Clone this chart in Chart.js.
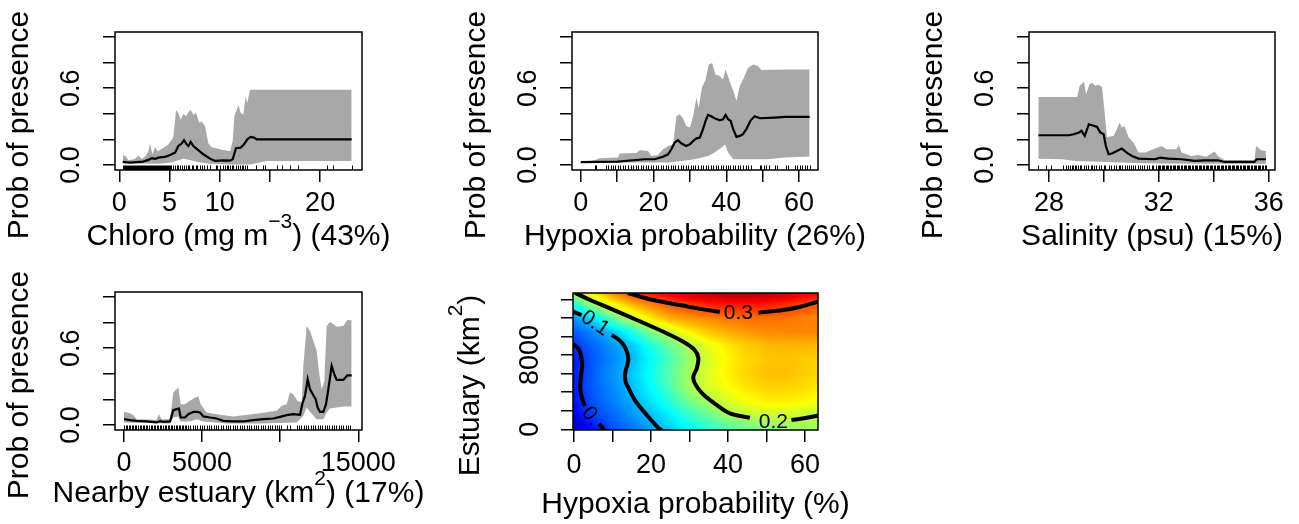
<!DOCTYPE html>
<html>
<head>
<meta charset="utf-8">
<script src="https://cdn.jsdelivr.net/npm/chart.js@4"></script>
<style>
  html, body { margin: 0; padding: 0; background: #fff; width: 1299px; height: 524px; overflow: hidden; }
  canvas { position: absolute; left: 0; top: 0; }
</style>
</head>
<body>
<canvas id="chloro" width="1299" height="524"></canvas>
<canvas id="hypoxia" width="1299" height="524"></canvas>
<canvas id="salinity" width="1299" height="524"></canvas>
<canvas id="estuary" width="1299" height="524"></canvas>
<canvas id="heat" width="1299" height="524"></canvas>
<script>
// ---- data ----
const probTicks = [0, 0.2, 0.4, 0.6, 0.8, 1.0];
const probLabels = ['0.0', '', '', '0.6', '', ''];

// Chlorophyll
const chloroTicks = [0, 5, 10, 15, 20];
const chloroLabels = ['0', '5', '10', '', '20'];
const chloroMean = [[0.34,0.023],[1.07,0.018],[2.39,0.026],[2.89,0.039],[3.22,0.052],[3.56,0.047],[3.89,0.057],[4.55,0.063],[5.05,0.078],[5.55,0.096],[5.88,0.148],[6.21,0.167],[6.44,0.193],[6.71,0.161],[6.88,0.148],[7.11,0.18],[7.37,0.148],[7.87,0.115],[8.37,0.083],[9.03,0.049],[9.53,0.031],[10.36,0.036],[11.03,0.034],[11.29,0.044],[11.62,0.13],[12.09,0.135],[12.42,0.161],[12.75,0.2],[13.08,0.219],[13.42,0.214],[13.68,0.2],[23.14,0.2]];
const chloroUpper = [[0.34,0.078],[0.67,0.065],[0.9,0.036],[1.56,0.047],[1.9,0.073],[2.23,0.047],[2.56,0.063],[2.89,0.104],[3.06,0.167],[3.29,0.083],[3.56,0.138],[3.82,0.107],[4.38,0.133],[4.88,0.159],[5.38,0.216],[5.65,0.427],[5.88,0.406],[6.11,0.354],[6.37,0.398],[6.64,0.38],[6.88,0.411],[7.11,0.432],[7.37,0.393],[7.64,0.406],[7.97,0.328],[8.2,0.341],[8.54,0.302],[8.87,0.167],[9.2,0.138],[10.03,0.122],[11.03,0.107],[11.29,0.185],[11.46,0.38],[11.86,0.466],[12.09,0.406],[12.35,0.393],[12.58,0.536],[12.75,0.484],[13.02,0.589],[23.14,0.589]];
const chloroLower = [[0.34,0.01],[4.05,0.008],[5.21,0.018],[5.88,0.036],[6.37,0.049],[7.04,0.039],[8.04,0.018],[9.03,0.008],[11.03,0.003],[13.02,0.003],[14.68,0.031],[23.14,0.031]];
const chloroRug = [0.35,0.45,0.55,0.65,0.75,0.85,0.95,1.05,1.15,1.25,1.35,1.45,1.55,1.65,1.75,1.85,1.95,2.05,2.15,2.25,2.35,2.45,2.55,2.65,2.75,2.85,2.95,3.05,3.15,3.25,3.35,3.45,3.55,3.65,3.75,3.85,3.95,4.05,4.15,4.25,4.35,4.45,4.55,4.65,4.75,4.85,4.95,5.05,5.15,5.38,5.55,5.71,5.88,6.05,6.21,6.44,6.64,6.81,6.98,7.21,7.37,7.64,7.77,8.04,8.2,8.47,8.7,9.03,9.63,9.76,10.03,10.36,10.53,10.7,10.86,11.03,11.19,11.36,11.62,11.86,12.02,12.19,12.35,12.52,12.69,13.62,14.35,14.51,15.67,16.17,17.0,17.83,20.66,21.25,23.14];

// Hypoxia probability
const hypoxiaTicks = [0, 10, 20, 30, 40, 50, 60];
const hypoxiaLabels = ['0', '', '20', '', '40', '', '60'];
const hypoxiaMean = [[0,0.021],[10.2,0.026],[17.6,0.044],[20.3,0.044],[22.6,0.063],[24.0,0.083],[24.9,0.122],[25.8,0.174],[26.7,0.193],[27.7,0.167],[29.0,0.148],[30.0,0.161],[30.9,0.187],[31.8,0.208],[32.7,0.213],[33.6,0.279],[34.3,0.344],[35.0,0.391],[35.7,0.383],[36.8,0.365],[38.2,0.349],[39.1,0.357],[39.8,0.391],[40.5,0.357],[41.2,0.344],[41.9,0.279],[42.8,0.219],[43.7,0.227],[44.6,0.24],[45.6,0.284],[46.7,0.349],[47.8,0.38],[49.2,0.365],[53.3,0.37],[56.1,0.375],[62.9,0.375]];
const hypoxiaUpper = [[0,0.023],[3.85,0.036],[5.2,0.052],[10.2,0.057],[10.7,0.089],[15.3,0.094],[16.2,0.115],[18.5,0.109],[19.4,0.07],[21.2,0.078],[22.6,0.122],[24.0,0.148],[25.4,0.161],[26.3,0.383],[27.2,0.396],[28.1,0.365],[29.0,0.305],[30.0,0.292],[30.9,0.383],[31.8,0.526],[32.4,0.448],[33.3,0.604],[34.3,0.669],[35.2,0.786],[36.1,0.797],[37.0,0.708],[38.2,0.695],[39.1,0.669],[39.8,0.747],[40.9,0.656],[42.1,0.565],[42.8,0.5],[43.7,0.617],[44.6,0.669],[46.0,0.76],[47.4,0.786],[48.7,0.773],[49.6,0.742],[56.1,0.747],[62.9,0.747]];
const hypoxiaLower = [[0,0.018],[24,0.018],[26.7,0.026],[31.3,0.044],[35,0.07],[36.8,0.096],[38.6,0.135],[39.7,0.161],[40.5,0.096],[41.9,0.044],[51.5,0.044],[56.1,0.057],[62.9,0.065]];
const hypoxiaRug = [3.8,4.3,6.9,7.5,8.2,8.9,9.5,10.3,10.9,11.6,12.3,13.0,13.7,14.4,15.1,15.7,16.5,17.1,17.9,18.5,19.2,19.9,20.6,21.3,22.0,22.6,23.4,24.0,24.7,25.4,26.0,26.7,27.5,28.1,28.8,29.5,30.2,30.9,31.5,32.2,33.0,33.6,34.3,35.0,35.7,36.4,37.1,37.7,38.5,39.1,39.8,40.5,41.1,41.9,42.5,43.2,43.9,44.6,45.3,46.0,46.7,49.2,49.6,50.4,51.0,51.7,53.5,54.0,56.5,57.0,58.8,59.5,60.2,60.8,61.6,62.3,62.9];

// Salinity
const salinityTicks = [28, 30, 32, 34, 36];
const salinityLabels = ['28', '', '32', '', '36'];
const salinityMean = [[27.61,0.232],[28.72,0.232],[28.9,0.24],[29.09,0.253],[29.18,0.266],[29.3,0.227],[29.45,0.318],[29.57,0.31],[29.75,0.297],[29.87,0.253],[29.99,0.24],[30.07,0.148],[30.17,0.083],[30.29,0.089],[30.47,0.109],[30.65,0.128],[30.83,0.096],[31.02,0.07],[31.26,0.049],[31.86,0.044],[32.04,0.057],[32.34,0.049],[32.83,0.044],[33.31,0.031],[33.67,0.036],[34.15,0.036],[34.39,0.023],[35.48,0.023],[35.56,0.044],[35.9,0.044]];
const salinityUpper = [[27.61,0.531],[29.03,0.531],[29.11,0.617],[29.27,0.651],[29.35,0.552],[29.47,0.63],[29.57,0.643],[29.69,0.617],[29.79,0.63],[29.93,0.609],[30.03,0.396],[30.11,0.219],[30.35,0.227],[30.47,0.279],[30.57,0.331],[30.65,0.292],[30.75,0.305],[30.9,0.214],[31.08,0.174],[31.26,0.096],[31.5,0.096],[31.8,0.122],[32.1,0.148],[32.28,0.122],[32.64,0.122],[32.73,0.156],[32.83,0.096],[33.19,0.07],[33.43,0.078],[33.73,0.063],[34.03,0.104],[34.15,0.07],[34.39,0.036],[35.48,0.036],[35.54,0.148],[35.72,0.115],[35.9,0.109]];
const salinityLower = [[27.61,0.049],[28.48,0.044],[28.97,0.031],[30.05,0.023],[30.77,0.016],[31.98,0.01],[34.39,0.008],[35.9,0.008]];
const salinityRug = [27.61,27.9,28.06,28.51,28.6,28.69,28.76,28.82,28.88,28.94,29.0,29.06,29.12,29.18,29.27,29.35,29.42,29.51,29.57,29.65,29.72,29.81,29.91,29.99,30.05,30.17,30.27,30.35,30.44,30.53,30.59,30.65,30.75,30.83,30.92,30.99,31.05,31.14,31.23,31.32,31.4,31.47,31.56,31.64,31.74,31.8,31.88,31.96,
  32.0,32.05,32.1,32.15,32.2,32.25,32.3,32.35,32.4,32.45,32.5,32.55,32.6,32.65,32.7,32.75,32.8,32.85,32.9,32.95,33.0,33.05,33.1,33.15,33.2,33.25,33.3,33.35,33.4,33.45,33.5,33.55,33.6,33.65,33.7,33.75,33.8,33.85,33.9,33.95,34.0,34.05,34.1,34.15,34.2,34.25,34.3,34.35,34.4,34.45,34.5,34.55,34.6,34.65,34.7,34.75,34.8,34.85,34.9,34.95,35.0,35.05,35.1,35.15,35.2,35.25,35.3,35.35,35.4,35.45,35.5,35.55,35.6,35.65,35.7,35.75,35.8,35.85,35.9];

// Nearby estuary
const estuaryTicks = [0, 5000, 10000, 15000];
const estuaryLabels = ['0', '5000', '', '15000'];
const estuaryMean = [[0,0.045],[384,0.037],[811,0.032],[1451,0.027],[2091,0.019],[2305,0.029],[2518,0.024],[2945,0.027],[3052,0.071],[3158,0.115],[3372,0.123],[3521,0.128],[3628,0.058],[3905,0.058],[4119,0.084],[4439,0.102],[4652,0.102],[4866,0.097],[5079,0.066],[5506,0.058],[5933,0.05],[6360,0.032],[7000,0.027],[7640,0.027],[8280,0.037],[8920,0.045],[9560,0.05],[9987,0.063],[10414,0.076],[10841,0.084],[11268,0.079],[11438,0.175],[11588,0.227],[11758,0.357],[11908,0.279],[12122,0.232],[12271,0.201],[12399,0.136],[12548,0.102],[12762,0.102],[12932,0.162],[13082,0.279],[13295,0.461],[13466,0.396],[13615,0.352],[13828,0.352],[14042,0.352],[14298,0.388],[14575,0.388]];
const estuaryUpper = [[0,0.102],[384,0.092],[598,0.076],[811,0.045],[2091,0.04],[2241,0.084],[2411,0.045],[2945,0.045],[3158,0.253],[3478,0.292],[3628,0.162],[3905,0.162],[4225,0.188],[4545,0.214],[4759,0.222],[4908,0.162],[5292,0.097],[5933,0.084],[7000,0.066],[7640,0.076],[8707,0.092],[9774,0.11],[10094,0.149],[10414,0.162],[10627,0.253],[10841,0.24],[11097,0.188],[11374,0.175],[11481,0.461],[11694,0.773],[11908,0.734],[12164,0.643],[12335,0.578],[12506,0.396],[12655,0.279],[12826,0.344],[12975,0.773],[13188,0.807],[13615,0.768],[14042,0.773],[14298,0.82],[14575,0.818]];
const estuaryLower = [[0,0.019],[2945,0.011],[3158,0.058],[3478,0.066],[3628,0.027],[4225,0.027],[4652,0.045],[5079,0.027],[6573,0.011],[8707,0.011],[11054,0.019],[11481,0.071],[11694,0.136],[11908,0.102],[12335,0.045],[12762,0.045],[12975,0.097],[13188,0.128],[13615,0.136],[14042,0.144],[14575,0.144]];
const estuaryRug = [0,100,200,300,400,500,600,700,800,900,1000,1100,1200,1300,1400,1500,1600,1700,1800,1900,2000,2100,2200,2300,2400,2500,2600,2700,2800,2900,3000,3100,3200,3300,3400,3500,3600,3700,3800,3900,4000,4100,
  4250,4400,4550,4700,4850,5000,5150,5300,5450,5600,5750,5900,6050,6200,6350,6500,6650,6800,6950,7100,7250,7400,7550,7700,7850,8000,8150,8300,8450,8600,8750,8900,9050,9200,9350,9500,9650,9800,9950,10050,
  10414,10627,11054,11200,11350,11500,11650,11800,11950,12100,12250,12400,12550,12700,12850,13000,13150,13300,13450,13600,13750,13900,14050,14200,14350,14500];

// Hypoxia x Estuary interaction surface (rows from estuary = 0 upward)
const heatX = [0, 5, 10, 15, 20, 25, 30, 35, 40, 45, 50, 55, 60, 64];
const heatY = [0, 1500, 3000, 4500, 6000, 7500, 9000, 10500, 12000, 13500, 14700];
const heatZ = [
  [0.010,0.035,0.060,0.075,0.092,0.110,0.130,0.145,0.160,0.170,0.180,0.185,0.190,0.190],
  [0.025,0.055,0.070,0.088,0.105,0.125,0.150,0.170,0.192,0.203,0.208,0.210,0.205,0.200],
  [0.035,0.063,0.080,0.097,0.120,0.145,0.175,0.197,0.215,0.228,0.235,0.235,0.232,0.228],
  [0.040,0.067,0.085,0.105,0.130,0.160,0.195,0.215,0.230,0.240,0.247,0.247,0.243,0.238],
  [0.040,0.068,0.088,0.108,0.135,0.165,0.195,0.218,0.235,0.247,0.255,0.255,0.250,0.245],
  [0.038,0.065,0.085,0.103,0.130,0.160,0.190,0.215,0.233,0.245,0.252,0.253,0.250,0.247],
  [0.050,0.070,0.088,0.108,0.140,0.170,0.198,0.222,0.238,0.250,0.256,0.258,0.258,0.257],
  [0.065,0.085,0.108,0.140,0.180,0.210,0.235,0.252,0.262,0.270,0.275,0.277,0.278,0.278],
  [0.090,0.120,0.170,0.205,0.240,0.262,0.272,0.278,0.285,0.287,0.287,0.285,0.280,0.275],
  [0.145,0.195,0.230,0.260,0.280,0.297,0.310,0.320,0.325,0.325,0.322,0.315,0.303,0.295],
  [0.200,0.240,0.275,0.305,0.325,0.340,0.352,0.360,0.365,0.365,0.360,0.352,0.340,0.330]
];
const heatXTicks = [0, 10, 20, 30, 40, 50, 60];
const heatXLabels = ['0', '', '20', '', '40', '', '60'];
const heatYTicks = [0, 2000, 4000, 6000, 8000, 10000, 12000, 14000];
const heatYLabels = ['0', '', '', '', '8000', '', '', ''];
const contour03a = [[14.0,14680],[20.6,13925],[27.5,13386],[33.6,12919],[37.9,12666]];
const contour03b = [[47.9,12560],[54.3,12850],[58.5,13170],[63.4,13740]];
const contour02a = [[0.26,14680],[4.2,13925],[9.35,13027],[16.3,11770],[23.2,10513],[28.4,9436],[31.2,8600],[32.3,7700],[31.9,6563],[31.0,5666],[31.4,4948],[33.3,3871],[36.8,2700],[40.5,1717],[45.7,1250]];
const contour02b = [[56.5,1000],[59.8,1180],[63.4,1480]];
const contour01a = [[-0.26,12667],[2.0,12310]];
const contour01b = [[9.8,10156],[11.5,9700],[12.8,9150],[13.8,8300],[14.1,7460],[13.5,6400],[13.2,5800],[13.5,5000],[14.0,4590],[15.8,3150],[19.3,1357],[22.3,0],[22.9,-75]];
const contour005a = [[-0.26,9200],[1.3,8580],[2.1,7200],[1.9,6000],[1.6,4590],[2.0,3500],[2.8,2500]];
const contour005b = [[6.5,600],[7.9,-75]];
const contourLabels = [
  { text: '0.3', x: 42.7, y: 12492, angle: 0 },
  { text: '0.2', x: 51.8, y: 711, angle: 0 },
  { text: '0.1', x: 5.45, y: 11415, angle: 34 },
  { text: '0.', x: 4.4, y: 1432, angle: 52 }
];
const jetStops = ['#00007F', '#0000FF', '#007FFF', '#00FFFF', '#7FFF7F', '#FFFF00', '#FF7F00', '#FF0000', '#7F0000'];
const heatMin = -0.02, heatMax = 0.38;

// ---- drawing ----
const FONT = '"Liberation Sans", Arial, sans-serif';
const W = 1299, H = 524;
const BAND = '#a8a8a8';
const TICK_PX = 27;

function pts(arr) { return arr.map(p => ({ x: p[0], y: p[1] })); }

function drawRich(ctx, parts, cx, cy, rot) {
  // even index = normal text, odd index = superscript
  ctx.save();
  ctx.translate(cx, cy);
  ctx.rotate(rot);
  ctx.fillStyle = '#000';
  ctx.textBaseline = 'middle';
  ctx.textAlign = 'left';
  const fonts = parts.map((t, i) => i % 2 ? '21px ' + FONT : '30px ' + FONT);
  let w = 0;
  parts.forEach((t, i) => { ctx.font = fonts[i]; w += ctx.measureText(t).width; });
  let x = -w / 2;
  parts.forEach((t, i) => {
    ctx.font = fonts[i];
    ctx.fillText(t, x, i % 2 ? -15 : 0);
    x += ctx.measureText(t).width;
  });
  ctx.restore();
}

function hexRgb(h) { return [parseInt(h.slice(1, 3), 16), parseInt(h.slice(3, 5), 16), parseInt(h.slice(5, 7), 16)]; }
const jetRgb = jetStops.map(hexRgb);
function jet(v) {
  let t = (v - heatMin) / (heatMax - heatMin);
  t = Math.max(0, Math.min(1, t)) * (jetRgb.length - 1);
  const i = Math.min(Math.floor(t), jetRgb.length - 2), f = t - i;
  return jetRgb[i].map((c, k) => Math.round(c + (jetRgb[i + 1][k] - c) * f));
}
function seg(arr, v) {
  let i = 0;
  while (i < arr.length - 2 && v > arr[i + 1]) i++;
  const f = Math.max(0, Math.min(1, (v - arr[i]) / (arr[i + 1] - arr[i])));
  return [i, f];
}
function heatAt(x, y) {
  const [i, fx] = seg(heatX, x);
  const [j, fy] = seg(heatY, y);
  const a = heatZ[j][i] * (1 - fx) + heatZ[j][i + 1] * fx;
  const b = heatZ[j + 1][i] * (1 - fx) + heatZ[j + 1][i + 1] * fx;
  return a * (1 - fy) + b * fy;
}

function decor(cfg) {
  return {
    id: 'decor',
    beforeDatasetsDraw(chart) {
      if (!cfg.heat) return;
      const a = chart.chartArea, xs = chart.scales.x, ys = chart.scales.y;
      const w = Math.round(a.right - a.left), h = Math.round(a.bottom - a.top);
      const off = document.createElement('canvas');
      off.width = w; off.height = h;
      const octx = off.getContext('2d');
      const img = octx.createImageData(w, h);
      for (let j = 0; j < h; j++) {
        const yv = ys.getValueForPixel(a.top + j + 0.5);
        for (let i = 0; i < w; i++) {
          const c = jet(heatAt(xs.getValueForPixel(a.left + i + 0.5), yv));
          const k = (j * w + i) * 4;
          img.data[k] = c[0]; img.data[k + 1] = c[1]; img.data[k + 2] = c[2]; img.data[k + 3] = 255;
        }
      }
      octx.putImageData(img, 0, 0);
      chart.ctx.drawImage(off, a.left, a.top);
    },
    afterDatasetsDraw(chart) {
      const ctx = chart.ctx, a = chart.chartArea, xs = chart.scales.x, ys = chart.scales.y;
      if (cfg.rug) {
        ctx.save();
        ctx.strokeStyle = '#000';
        ctx.lineWidth = 1;
        ctx.beginPath();
        cfg.rug.forEach(v => {
          const px = Math.round(xs.getPixelForValue(v)) + 0.5;
          ctx.moveTo(px, a.bottom);
          ctx.lineTo(px, a.bottom - 4.5);
        });
        ctx.stroke();
        ctx.restore();
      }
      if (cfg.labels) {
        cfg.labels.forEach(l => {
          ctx.save();
          ctx.translate(xs.getPixelForValue(l.x), ys.getPixelForValue(l.y));
          ctx.rotate(l.angle * Math.PI / 180);
          ctx.font = '21px ' + FONT;
          ctx.textAlign = 'center';
          ctx.textBaseline = 'middle';
          ctx.fillStyle = '#000';
          ctx.fillText(l.text, 0, 0);
          ctx.restore();
        });
      }
    },
    afterDraw(chart) {
      const ctx = chart.ctx, a = chart.chartArea, ys = chart.scales.y;
      ctx.save();
      ctx.strokeStyle = '#000';
      ctx.lineWidth = 1.5;
      ctx.strokeRect(a.left, a.top, a.right - a.left, a.bottom - a.top);
      // rotated y tick labels
      ctx.font = TICK_PX + 'px ' + FONT;
      ctx.fillStyle = '#000';
      ctx.textAlign = 'center';
      ctx.textBaseline = 'middle';
      cfg.yTicks.forEach((v, i) => {
        if (!cfg.yLabels[i]) return;
        ctx.save();
        ctx.translate(a.left - cfg.yLabelDx, ys.getPixelForValue(v));
        ctx.rotate(-Math.PI / 2);
        ctx.fillText(cfg.yLabels[i], 0, 0);
        ctx.restore();
      });
      ctx.restore();
      drawRich(ctx, cfg.xTitle, (a.left + a.right) / 2, a.bottom + cfg.xTitleDy, 0);
      drawRich(ctx, cfg.yTitle, a.left - cfg.yTitleDx, (a.top + a.bottom) / 2 + 24, -Math.PI / 2);
    }
  };
}

function makeChart(id, cfg, datasets) {
  const b = cfg.box;
  const xAxisH = 12 + cfg.tickPad + TICK_PX;
  return new Chart(document.getElementById(id), {
    type: 'line',
    data: { datasets: datasets },
    options: {
      responsive: false,
      animation: false,
      events: [],
      layout: { padding: { left: b.l - 12, top: b.t, right: W - b.r, bottom: H - b.b - xAxisH } },
      plugins: { legend: { display: false }, tooltip: { enabled: false } },
      elements: { point: { radius: 0 } },
      scales: {
        x: {
          type: 'linear', bounds: 'data', min: cfg.xMin, max: cfg.xMax,
          afterBuildTicks: s => { s.ticks = cfg.xTicks.map(v => ({ value: v })); },
          afterFit: s => { s.height = xAxisH; s.paddingLeft = 0; s.paddingRight = 0; },
          grid: { drawOnChartArea: false, tickLength: 12, color: '#000', lineWidth: 1.5 },
          border: { display: false },
          ticks: {
            autoSkip: false, maxRotation: 0, minRotation: 0, padding: cfg.tickPad, color: '#000',
            font: { family: FONT, size: TICK_PX, lineHeight: 1 },
            callback: (v, i) => cfg.xLabels[i]
          }
        },
        y: {
          type: 'linear', bounds: 'data', min: cfg.yMin, max: cfg.yMax,
          afterBuildTicks: s => { s.ticks = cfg.yTicks.map(v => ({ value: v })); },
          afterFit: s => { s.width = 12; s.paddingTop = 0; s.paddingBottom = 0; },
          grid: { drawOnChartArea: false, tickLength: 12, color: '#000', lineWidth: 1.5 },
          border: { display: false },
          ticks: { display: false }
        }
      }
    },
    plugins: [decor(cfg)]
  });
}

function pdChart(id, cfg, upper, lower, mean) {
  makeChart(id, Object.assign({
    yMin: -0.04, yMax: 1.04, yTicks: probTicks, yLabels: probLabels, yLabelDx: 43,
    yTitle: ['Prob of presence'], yTitleDx: 95, tickPad: 8.5
  }, cfg), [
    { data: pts(upper), borderColor: 'rgba(0,0,0,0)', borderWidth: 0, backgroundColor: BAND, fill: '+1', order: 2 },
    { data: pts(lower), borderColor: 'rgba(0,0,0,0)', borderWidth: 0, fill: false, order: 3 },
    { data: pts(mean), borderColor: '#000', borderWidth: 2.2, fill: false, order: 1 }
  ]);
}

pdChart('chloro', {
  box: { l: 115, t: 32, r: 362, b: 170 }, xMin: -0.43, xMax: 24.17,
  xTicks: chloroTicks, xLabels: chloroLabels, rug: chloroRug,
  xTitle: ['Chloro (mg m', '\u22123', ') (43%)'], xTitleDy: 67
}, chloroUpper, chloroLower, chloroMean);

pdChart('hypoxia', {
  box: { l: 572, t: 32, r: 818, b: 170 }, xMin: -2.4, xMax: 65.2,
  xTicks: hypoxiaTicks, xLabels: hypoxiaLabels, rug: hypoxiaRug,
  xTitle: ['Hypoxia probability (26%)'], xTitleDy: 67
}, hypoxiaUpper, hypoxiaLower, hypoxiaMean);

pdChart('salinity', {
  box: { l: 1029, t: 32, r: 1275, b: 170 }, xMin: 27.27, xMax: 36.23,
  xTicks: salinityTicks, xLabels: salinityLabels, rug: salinityRug,
  xTitle: ['Salinity (psu) (15%)'], xTitleDy: 67
}, salinityUpper, salinityLower, salinityMean);

pdChart('estuary', {
  box: { l: 115, t: 292, r: 362, b: 430 }, xMin: -576, xMax: 15237,
  xTicks: estuaryTicks, xLabels: estuaryLabels, rug: estuaryRug,
  xTitle: ['Nearby estuary (km', '2', ') (17%)'], xTitleDy: 64
}, estuaryUpper, estuaryLower, estuaryMean);

const contourStyle = { borderColor: '#000', borderWidth: 4, fill: false, tension: 0.35 };
makeChart('heat', {
  box: { l: 573, t: 293, r: 818, b: 430 }, xMin: -0.26, xMax: 63.4, yMin: -75, yMax: 14680,
  xTicks: heatXTicks, xLabels: heatXLabels, yTicks: heatYTicks, yLabels: heatYLabels, yLabelDx: 42,
  tickPad: 10.5, heat: true, labels: contourLabels,
  xTitle: ['Hypoxia probability (%)'], xTitleDy: 75,
  yTitle: ['Estuary (km', '2', ')'], yTitleDx: 102
}, [contour03a, contour03b, contour02a, contour02b, contour01a, contour01b, contour005a, contour005b]
  .map(c => Object.assign({ data: pts(c) }, contourStyle)));
</script>
</body>
</html>
